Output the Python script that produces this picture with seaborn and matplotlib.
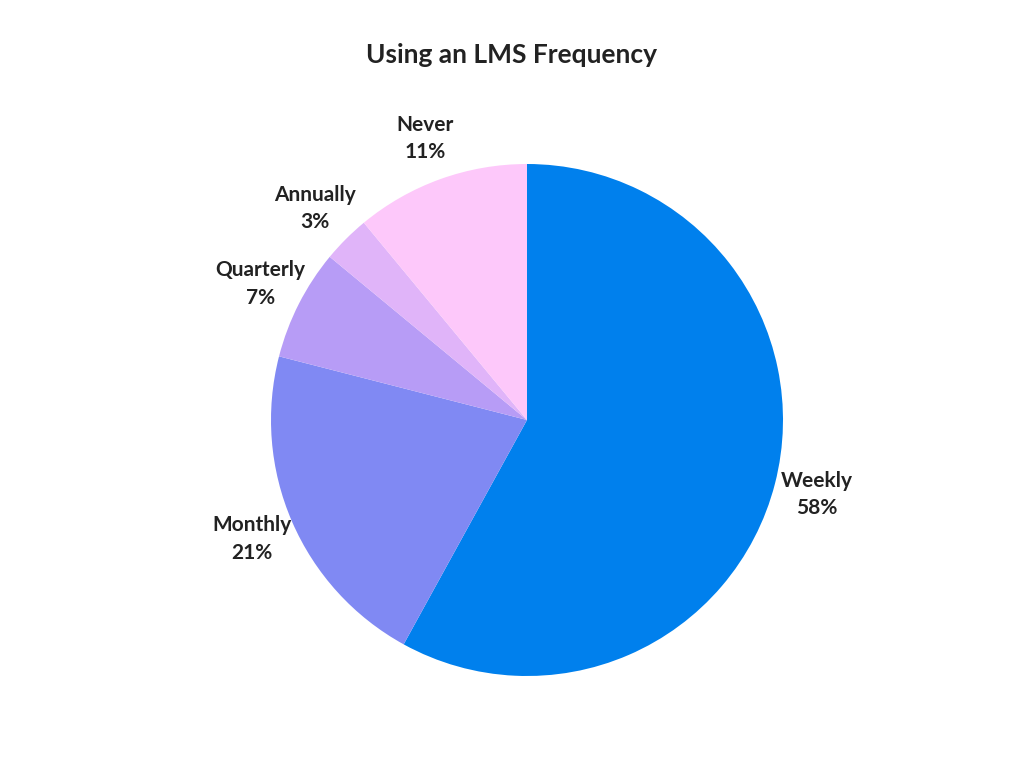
import numpy as np
import matplotlib
matplotlib.use("Agg")
import matplotlib.pyplot as plt
import seaborn as sns

categories = ["Weekly", "Monthly", "Quarterly", "Annually", "Never"]
values = [58, 21, 7, 3, 11]
colors = ["#0080ED", "#8089F3", "#B79CF6", "#E0B4F9", "#FDC8FA"]

sns.set_theme(style="white")
plt.rcParams['font.family'] = ['Lato', 'DejaVu Sans']

fig = plt.figure(figsize=(10.24, 7.68), dpi=100)
fig.patch.set_facecolor("white")
ax = fig.add_axes([271/1024, 92/768, 512/1024, 512/768])
wedges, _ = ax.pie(values, colors=colors, startangle=90, counterclock=False,
                   wedgeprops=dict(linewidth=0))
ax.set_xlim(-1, 1)
ax.set_ylim(-1, 1)
ax.set_aspect("equal")
for w, c, v in zip(wedges, categories, values):
    ang = np.deg2rad((w.theta1 + w.theta2) / 2)
    r = 1.17
    ax.text(r*np.cos(ang), r*np.sin(ang), f"{c}\n{v}%", ha="center", va="center",
            fontsize=15, fontweight="bold", color="#222222", linespacing=1.45,
            clip_on=False)
fig.text(0.5, 1 - 55/768, "Using an LMS Frequency", ha="center", va="center",
         fontsize=19, fontweight="bold", color="#222222")
fig.savefig("out.png", dpi=100, facecolor="white")
